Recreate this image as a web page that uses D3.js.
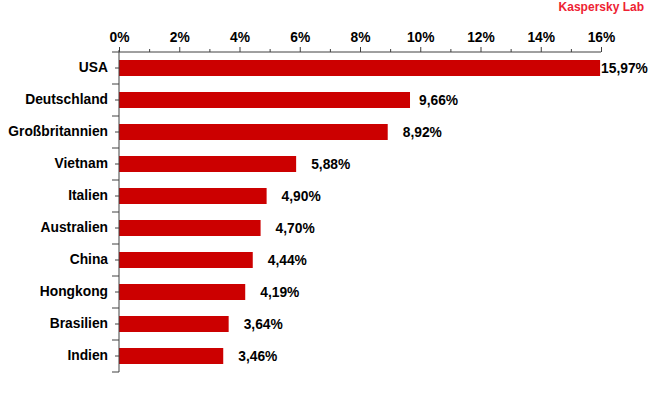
<!DOCTYPE html>
<html><head><meta charset="utf-8">
<script src="https://cdn.jsdelivr.net/npm/d3@7"></script>
<style>
body{margin:0;background:#fff;}
svg{display:block;font-family:"Liberation Sans",Arial,sans-serif;}
</style></head>
<body>
<svg id="chart" width="650" height="400"></svg>
<script>
const categories = ["USA","Deutschland","Großbritannien","Vietnam","Italien","Australien","China","Hongkong","Brasilien","Indien"];
const values = [15.97,9.66,8.92,5.88,4.90,4.70,4.44,4.19,3.64,3.46];
const valueLabels = ["15,97%","9,66%","8,92%","5,88%","4,90%","4,70%","4,44%","4,19%","3,64%","3,46%"];
const xTicks = [0,2,4,6,8,10,12,14,16];
const xTickLabels = ["0%","2%","4%","6%","8%","10%","12%","14%","16%"];
const minorTicks = [1,3,5,7,9,11,13,15];

const svg = d3.select("#chart");
const x = d3.scaleLinear().domain([0,16]).range([119,601]);
const y = d3.scaleBand().domain(categories).range([52,372]).paddingInner(0.5).paddingOuter(0.25);
const axisColor = "#404040";
const fontSize = "13.8px";

// bars
svg.selectAll("rect.bar").data(values).enter().append("rect")
  .attr("class","bar")
  .attr("x", x(0))
  .attr("y",(d,i)=>y(categories[i]))
  .attr("width",d=>x(d)-x(0))
  .attr("height",y.bandwidth())
  .attr("fill","#cc0000");

// x axis (top)
const xAxis = d3.axisTop(x).tickValues(xTicks).tickSize(5).tickPadding(5)
  .tickFormat((d,i)=>xTickLabels[i]);
const gx = svg.append("g").attr("transform","translate(0,52)").call(xAxis);
gx.select(".domain").attr("stroke",axisColor).attr("d",`M${x(0)},0H${x(16)}`);
gx.selectAll(".tick line").attr("stroke",axisColor);
gx.selectAll(".tick text").attr("fill","#000").style("font-size",fontSize).style("font-weight","bold")
  .attr("font-family","Liberation Sans, Arial, sans-serif");
const gxm = svg.append("g").attr("transform","translate(0,52)")
  .call(d3.axisTop(x).tickValues(minorTicks).tickSize(3).tickFormat(""));
gxm.select(".domain").remove();
gxm.selectAll(".tick line").attr("stroke",axisColor);

// y axis
const gy = svg.append("g").attr("transform",`translate(${x(0)},0)`)
  .call(d3.axisLeft(y).tickSize(4).tickPadding(7));
gy.select(".domain").attr("stroke",axisColor).attr("d","M0,50V372");
gy.selectAll(".tick line").attr("stroke",axisColor);
gy.selectAll(".tick text").attr("fill","#000").style("font-size",fontSize).style("font-weight","bold")
  .attr("font-family","Liberation Sans, Arial, sans-serif");
// category boundary ticks
const bounds = categories.map(c=>y(c)-(y.step()-y.bandwidth())/2).concat([372]);
svg.append("g").selectAll("line").data(bounds).enter().append("line")
  .attr("x1",x(0)-7).attr("x2",x(0)).attr("y1",d=>d).attr("y2",d=>d)
  .attr("stroke",axisColor);

// value labels
const labelGap = {"USA":1,"Deutschland":9};
svg.append("g").selectAll("text").data(values).enter().append("text")
  .attr("x",(d,i)=>x(d)+(labelGap[categories[i]]!==undefined?labelGap[categories[i]]:15))
  .attr("y",(d,i)=>y(categories[i])+y.bandwidth()/2)
  .attr("dy","0.35em")
  .style("font-size",fontSize).style("font-weight","bold")
  .attr("fill","#000")
  .text((d,i)=>valueLabels[i]);

// brand
svg.append("text").attr("x",644).attr("y",11).attr("text-anchor","end")
  .style("font-size","12px").style("font-weight","bold").attr("fill","#ee2233")
  .text("Kaspersky Lab");
</script>
</body></html>
